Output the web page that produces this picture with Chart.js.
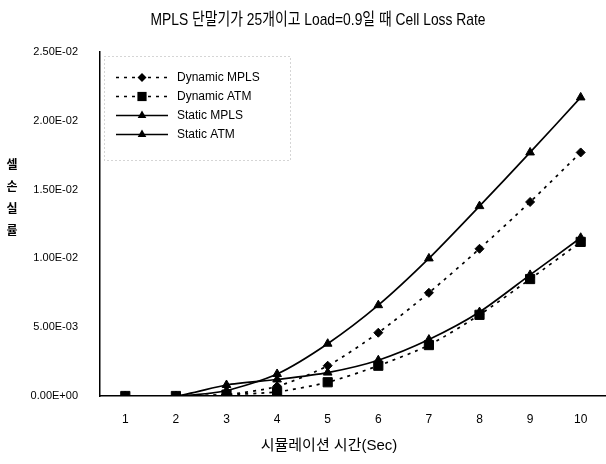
<!DOCTYPE html>
<html>
<head>
<meta charset="utf-8">
<script src="https://cdn.jsdelivr.net/npm/chart.js@4.4.1/dist/chart.umd.min.js"></script>
<style>
  html, body { margin: 0; padding: 0; background: #fff; }
  #wrap { width: 606px; height: 464px; position: relative; }
</style>
</head>
<body>
<div id="wrap"><canvas id="clrChart"></canvas></div>
<script>
const titleText = 'MPLS 단말기가 25개이고 Load=0.9일 때 Cell Loss Rate';
const xTitle = '시뮬레이션 시간(Sec)';
const yTitle = ['셀', '손', '실', '률'];

const seconds = ['1', '2', '3', '4', '5', '6', '7', '8', '9', '10'];
const yTickLabels = ['0.00E+00', '5.00E-03', '1.00E-02', '1.50E-02', '2.00E-02', '2.50E-02'];

const dynamicMpls = [0, 0, 0.0001, 0.0007, 0.0022, 0.0046, 0.0075, 0.0107, 0.0141, 0.0177];
const dynamicAtm  = [0, 0, 0.0001, 0.0003, 0.0010, 0.0022, 0.0037, 0.0059, 0.0085, 0.0112];
const staticMpls  = [0, 0, 0.0004, 0.0016, 0.0038, 0.0066, 0.0100, 0.0138, 0.0177, 0.0217];
const staticAtm   = [0, 0, 0.0008, 0.0012, 0.0017, 0.0026, 0.0041, 0.0061, 0.0088, 0.0115];

const latin = '"Liberation Sans", "Noto Sans CJK KR", sans-serif';

function series(label, data, style, radius, dashed) {
  return {
    label: label,
    data: data,
    borderColor: '#000',
    backgroundColor: '#000',
    borderWidth: 1.7,
    borderDash: dashed ? [3, 5] : [],
    pointStyle: style,
    pointRadius: radius,
    pointBorderWidth: 1,
    pointBackgroundColor: '#000',
    pointBorderColor: '#000',
    tension: 0.25,
    fill: false
  };
}

// 마커 그리기 (범례용)
function marker(ctx, style, r, x, y) {
  ctx.beginPath();
  if (style === 'rect') {
    const s = r * Math.SQRT1_2;
    ctx.rect(x - s, y - s, s * 2, s * 2);
  } else if (style === 'rectRot') {
    ctx.moveTo(x, y - r); ctx.lineTo(x + r, y); ctx.lineTo(x, y + r); ctx.lineTo(x - r, y);
    ctx.closePath();
  } else {
    const h = r * 1.5, w = r * Math.sqrt(3) / 2;
    ctx.moveTo(x, y - r); ctx.lineTo(x + w, y + h - r); ctx.lineTo(x - w, y + h - r);
    ctx.closePath();
  }
  ctx.fill();
}

const textPlugin = {
  id: 'texts',
  afterDraw(chart) {
    const ctx = chart.ctx;
    ctx.save();
    ctx.fillStyle = '#000';
    ctx.textBaseline = 'middle';
    ctx.textAlign = 'center';
    ctx.font = '17px ' + latin;
    ctx.fillText(titleText, 318, 20, 335);
    ctx.font = '15px ' + latin;
    ctx.fillText(xTitle, 329, 446, 185);
    ctx.font = 'bold 12px "Noto Sans CJK KR"';
    yTitle.forEach((ch, i) => ctx.fillText(ch, 12, 164 + i * 22));

    // 범례
    ctx.strokeStyle = '#aaa';
    ctx.lineWidth = 1;
    ctx.setLineDash([1, 3]);
    ctx.strokeRect(104.5, 56.5, 186, 104);
    ctx.textAlign = 'left';
    ctx.font = '12px ' + latin;
    chart.data.datasets.forEach((ds, i) => {
      const y = 77.5 + i * 19;
      ctx.strokeStyle = '#000';
      ctx.lineWidth = 1.7;
      ctx.setLineDash(ds.borderDash);
      ctx.beginPath();
      ctx.moveTo(116, y); ctx.lineTo(168, y);
      ctx.stroke();
      ctx.setLineDash([]);
      marker(ctx, ds.pointStyle, ds.pointRadius, 142, y);
      ctx.fillText(ds.label, 177, y);
    });
    ctx.restore();
  }
};

new Chart(document.getElementById('clrChart'), {
  type: 'line',
  data: {
    labels: seconds,
    datasets: [
      series('Dynamic MPLS', dynamicMpls, 'rectRot', 4.5, true),
      series('Dynamic ATM', dynamicAtm, 'rect', 6.5, true),
      series('Static MPLS', staticMpls, 'triangle', 5, false),
      series('Static ATM', staticAtm, 'triangle', 5, false)
    ]
  },
  options: {
    responsive: true,
    maintainAspectRatio: false,
    animation: false,
    layout: { autoPadding: false, padding: { top: 52, right: 0, bottom: 0, left: 0 } },
    plugins: {
      legend: { display: false },
      tooltip: { enabled: false }
    },
    scales: {
      x: {
        offset: true,
        grid: { display: false },
        border: { color: '#000', width: 1.5 },
        ticks: { color: '#000', font: { family: latin, size: 12 }, padding: 8, maxRotation: 0 },
        afterFit(scale) { scale.height = 68; scale.paddingLeft = 0; scale.paddingRight = 0; }
      },
      y: {
        min: 0,
        max: 0.025,
        grid: { display: false },
        border: { color: '#000', width: 1.5 },
        ticks: {
          stepSize: 0.005,
          color: '#000',
          font: { family: latin, size: 11 },
          padding: 14,
          callback: (v, i) => yTickLabels[i]
        },
        afterFit(scale) { scale.width = 100; }
      }
    }
  },
  plugins: [textPlugin]
});
</script>
</body>
</html>
